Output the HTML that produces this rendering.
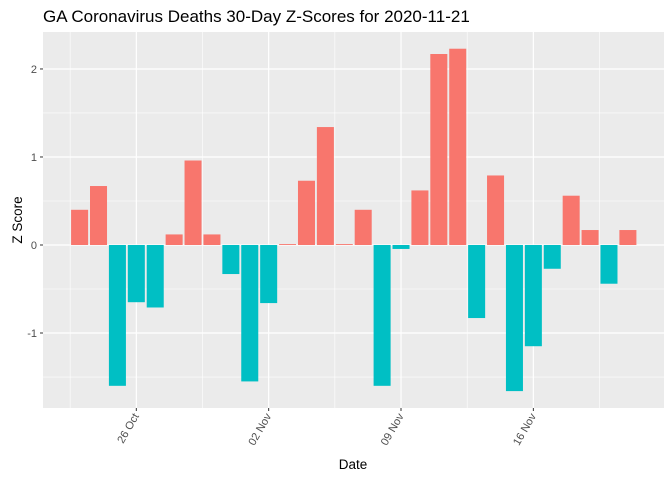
<!DOCTYPE html>
<html><head><meta charset="utf-8"><style>
body{margin:0;background:#fff;}
svg{display:block;font-family:"Liberation Sans",Arial,sans-serif;}
</style></head><body>
<svg id="chart" width="672" height="480">
<text x="43" y="22" font-size="17" fill="#000">GA Coronavirus Deaths 30-Day Z-Scores for 2020-11-21</text>
<rect x="43" y="32" width="621" height="376" fill="#ebebeb"/>
<g id="grid"></g>
<g id="bars"></g>
<g id="axes"></g>
<text transform="translate(22,220) rotate(-90)" text-anchor="middle" font-size="13.5" fill="#000">Z Score</text>
<text x="353" y="469" text-anchor="middle" font-size="13.5" fill="#000">Date</text>
</svg>
<script>
const startDate = "2020-10-23";
const values = [0.40,0.67,-1.60,-0.65,-0.71,0.12,0.96,0.12,-0.33,-1.55,-0.66,0.01,0.73,1.34,0.01,0.40,-1.60,-0.045,0.62,2.17,2.23,-0.83,0.79,-1.66,-1.15,-0.27,0.56,0.17,-0.44,0.17];
const yTicks = [-1,0,1,2];
const yMinor = [-1.5,-0.5,0.5,1.5];
const xTickDays = [3,10,17,24];
const xTickLabels = ["26 Oct","02 Nov","09 Nov","16 Nov"];
const xMinorDays = [-0.5,6.5,13.5,20.5,27.5];

const NS="http://www.w3.org/2000/svg";
const L=43,R=664,T=32,B=408;
const yMin=-1.852, yMax=2.42;
const xMin=-1.936, xMax=30.91;
function y(v){return B-(v-yMin)/(yMax-yMin)*(B-T);}
function x(d){return L+(d-xMin)/(xMax-xMin)*(R-L);}
function mk(tag,attrs,parent){const e=document.createElementNS(NS,tag);for(const k in attrs)e.setAttribute(k,attrs[k]);parent.appendChild(e);return e;}
const grid=document.getElementById('grid'),bars=document.getElementById('bars'),axes=document.getElementById('axes');
yMinor.forEach(v=>{const l=mk('line',{x1:L,x2:R,y1:y(v),y2:y(v),stroke:'#fff','stroke-width':0.6},grid);

});
xMinorDays.forEach(d=>{const l=mk('line',{x1:x(d),x2:x(d),y1:T,y2:B,stroke:'#fff','stroke-width':0.6},grid);

});
yTicks.forEach(v=>{const l=mk('line',{x1:L,x2:R,y1:y(v),y2:y(v),stroke:'#fff','stroke-width':1.2},grid);


const t=mk('line',{x1:L-3,x2:L,y1:y(v),y2:y(v),stroke:'#333','stroke-width':1},axes);


const tx=mk('text',{x:L-6,y:y(v)+4,'text-anchor':'end','font-size':11,fill:'#4d4d4d'},axes);
tx.textContent=v;

});
xTickDays.forEach((d,i)=>{const l=mk('line',{x1:x(d),x2:x(d),y1:T,y2:B,stroke:'#fff','stroke-width':1.2},grid);


const t=mk('line',{x1:x(d),x2:x(d),y1:B,y2:B+3,stroke:'#333','stroke-width':1},axes);


const tx=mk('text',{transform:`translate(${x(d)+3},${B+8}) rotate(-60)`,'text-anchor':'end','font-size':11,fill:'#4d4d4d'},axes);
tx.textContent=xTickLabels[i];

});
values.forEach((v,i)=>{const w=(x(1)-x(0))*0.9;const y0=y(0),y1=y(v);
const r=mk('rect',{x:x(i)-w/2,y:Math.min(y0,y1),width:w,height:Math.max(Math.abs(y1-y0),0.6),fill:v>=0?'#f8766d':'#00bfc4'},bars);

});
</script>
</body></html>
